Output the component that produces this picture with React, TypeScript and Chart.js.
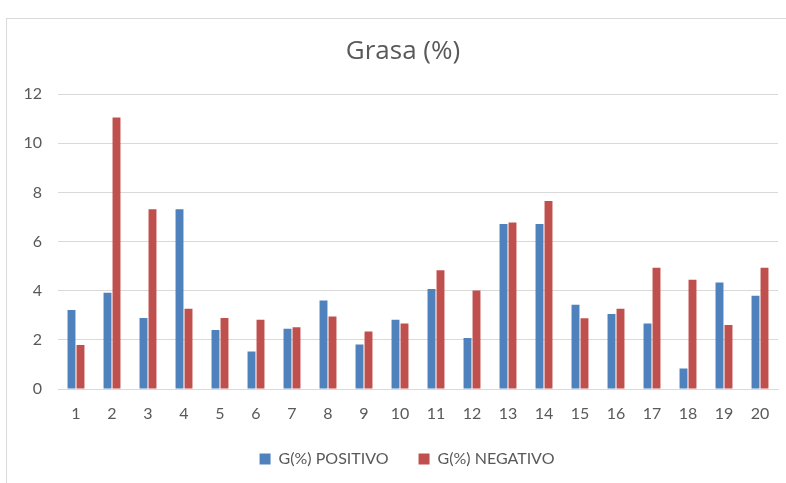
import React, { useEffect, useRef } from "react";
import { Chart, registerables } from "chart.js";

Chart.register(...registerables);

// Sample numbers along the x axis
const categories: string[] = [
  "1", "2", "3", "4", "5", "6", "7", "8", "9", "10",
  "11", "12", "13", "14", "15", "16", "17", "18", "19", "20",
];

// Fat percentage per sample
const positivo: number[] = [
  3.22, 3.92, 2.89, 7.32, 2.4, 1.53, 2.45, 3.6, 1.81, 2.82,
  4.07, 2.08, 6.72, 6.72, 3.43, 3.05, 2.67, 0.83, 4.34, 3.8,
];
const negativo: number[] = [
  1.79, 11.05, 7.32, 3.27, 2.89, 2.82, 2.51, 2.95, 2.34, 2.67,
  4.83, 4.01, 6.78, 7.65, 2.88, 3.27, 4.94, 4.45, 2.61, 4.94,
];

const yTicks: number[] = [0, 2, 4, 6, 8, 10, 12];

const FONT = "Lato, 'Open Sans', sans-serif";
const TITLE_FONT = "'Open Sans', Lato, sans-serif";
const TEXT = "#595959";
const GRID = "#D9D9D9";
const BLUE = "#4F81BD";
const RED = "#C0504D";

const VIEW_W = 786;
const VIEW_H = 483;

// The frame is wider than the plot: title and legend sit centred on the
// whole frame, which extends past the right edge of the view.
const centreOnFrame = {
  id: "centreOnFrame",
  afterLayout(chart: any) {
    const shift = (box: any, dx: number) => {
      if (!box) return;
      box.left += dx;
      box.right += dx;
      if (box.legendHitBoxes) box.adjustHitBoxes?.();
    };
    shift(chart.titleBlock, 14);
    shift(chart.legend, 18);
  },
};

export default function App() {
  const canvasRef = useRef<HTMLCanvasElement | null>(null);

  useEffect(() => {
    if (!canvasRef.current) return;
    const chart = new Chart(canvasRef.current, {
      type: "bar",
      data: {
        labels: categories,
        datasets: [
          {
            label: "G(%) POSITIVO",
            data: positivo,
            backgroundColor: BLUE,
            categoryPercentage: 0.5,
            barPercentage: 0.88,
          },
          {
            label: "G(%) NEGATIVO",
            data: negativo,
            backgroundColor: RED,
            categoryPercentage: 0.5,
            barPercentage: 0.88,
          },
        ],
      },
      options: {
        animation: false,
        responsive: false,
        maintainAspectRatio: false,
        layout: { padding: { left: 0, right: 8, top: 0, bottom: 6 } },
        plugins: {
          title: {
            display: true,
            text: "Grasa (%)",
            color: TEXT,
            font: { family: TITLE_FONT, size: 26, weight: "normal" },
            padding: { top: 36, bottom: 27 },
          },
          legend: {
            position: "bottom",
            labels: {
              color: TEXT,
              font: { family: FONT, size: 16 },
              boxWidth: 11,
              boxHeight: 11,
              padding: 30,
            },
          },
          tooltip: { enabled: false },
        },
        scales: {
          x: {
            grid: { display: false, drawTicks: false },
            border: { display: true, color: GRID, width: 1 },
            ticks: {
              color: TEXT,
              font: { family: FONT, size: 16 },
              padding: 15,
              maxRotation: 0,
            },
            afterFit: (scale: any) => {
              scale.height = 32;
            },
          },
          y: {
            min: 0,
            max: 12,
            afterBuildTicks: (scale: any) => {
              scale.ticks = yTicks.map((v) => ({ value: v }));
            },
            afterFit: (scale: any) => {
              scale.width = 58;
            },
            grid: { color: GRID, drawTicks: false },
            border: { display: false },
            ticks: {
              color: TEXT,
              font: { family: FONT, size: 16 },
              padding: 16,
            },
          },
        },
      },
      plugins: [centreOnFrame],
    });
    return () => chart.destroy();
  }, []);

  return (
    <div
      style={{
        position: "fixed",
        left: 0,
        top: 0,
        width: VIEW_W,
        height: VIEW_H,
        background: "#fff",
        overflow: "hidden",
      }}
    >
      <div
        style={{
          position: "absolute",
          left: 6,
          top: 18,
          width: 820,
          height: 500,
          borderLeft: `1px solid ${GRID}`,
          borderTop: `1px solid ${GRID}`,
        }}
      />
      <canvas
        ref={canvasRef}
        width={VIEW_W}
        height={VIEW_H}
        style={{ position: "absolute", left: 0, top: 0 }}
      />
    </div>
  );
}
